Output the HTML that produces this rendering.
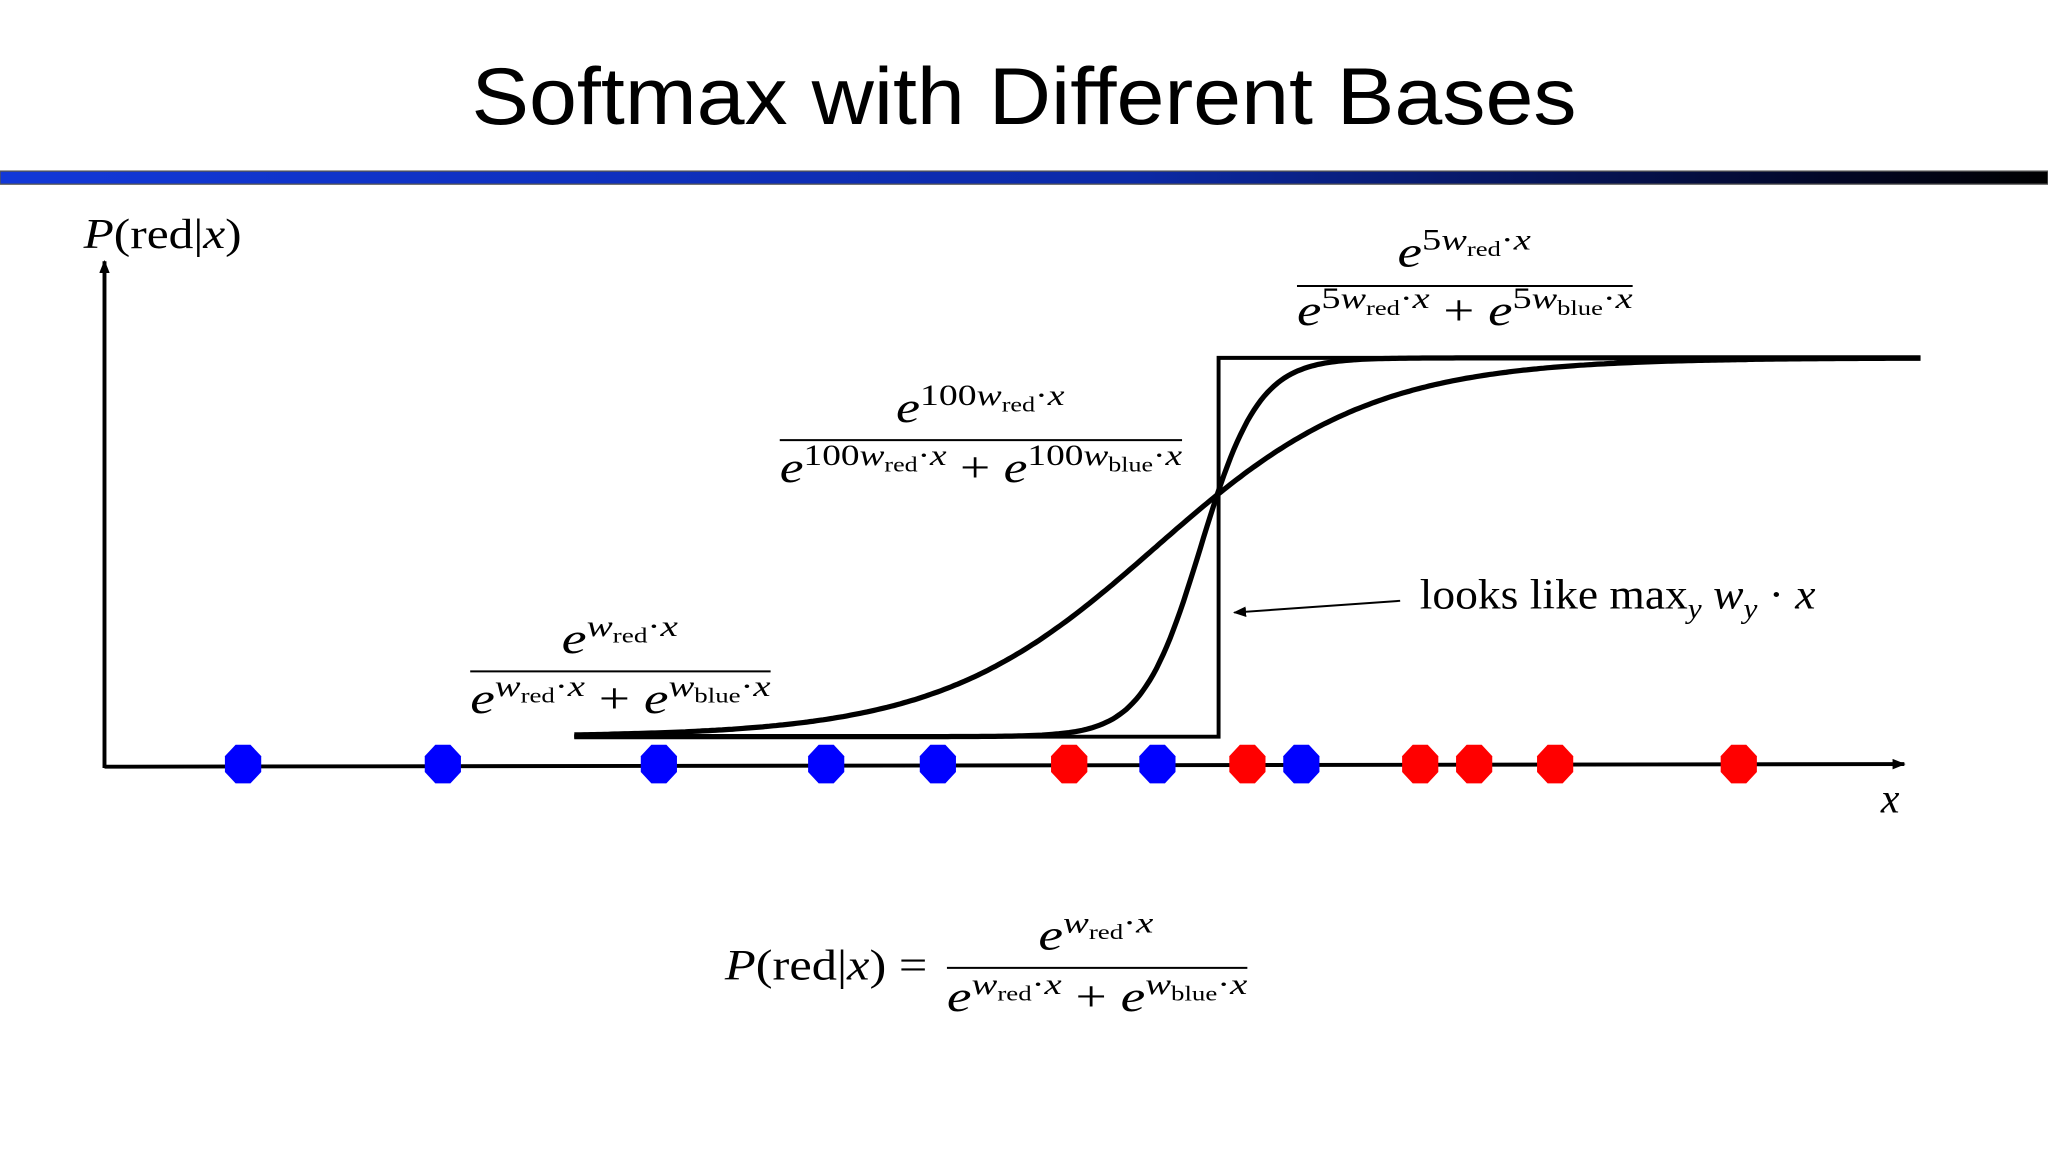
<!DOCTYPE html>
<html><head><meta charset="utf-8"><style>
html,body{margin:0;padding:0;background:#fff;}
svg{display:block;}
.m{font-family:"Liberation Serif",serif;font-style:italic;}
.r{font-family:"Liberation Serif",serif;font-style:normal;}
</style></head><body>
<svg id="chart" width="2048" height="1152" viewBox="0 0 1568 882" xmlns="http://www.w3.org/2000/svg">
<defs>
<linearGradient id="bar" x1="0" x2="1" y1="0" y2="0">
<stop offset="0" stop-color="#1238d8"/><stop offset="0.55" stop-color="#0c2aa8"/><stop offset="0.9" stop-color="#020624"/><stop offset="1" stop-color="#000"/>
</linearGradient>
<marker id="ah" markerWidth="10" markerHeight="8" refX="9" refY="4" orient="auto" markerUnits="userSpaceOnUse"><path d="M0,0 L10,4 L0,8 z" fill="#000"/></marker>
</defs>
<text x="784" y="95" text-anchor="middle" font-family="Liberation Sans, sans-serif" font-size="62" textLength="846" lengthAdjust="spacingAndGlyphs">Softmax with Different Bases</text>
<rect x="0" y="131" width="1568" height="10" fill="url(#bar)" stroke="#555" stroke-width="1"/>

<g id="axes">
<line x1="80" y1="588" x2="80" y2="200" stroke="#000" stroke-width="3" marker-end="url(#ah)"/>
<line x1="80" y1="587" x2="1458" y2="585" stroke="#000" stroke-width="3" marker-end="url(#ah)"/>
</g>
<text x="64" y="190" font-size="32" class="r" textLength="121" lengthAdjust="spacingAndGlyphs"><tspan class="m">P</tspan>(red|<tspan class="m">x</tspan>)</text>
<text x="1440" y="622" font-size="32" class="m">x</text>

<g id="curves"></g>
<g id="points"></g>

<g>
<text x="1070" y="204" font-size="33" class="m" textLength="102" lengthAdjust="spacingAndGlyphs">e<tspan font-size="23" dy="-13" class="r">5</tspan><tspan font-size="23">w</tspan><tspan font-size="16" dy="5" class="r">red</tspan><tspan font-size="23" dy="-5" class="r">·</tspan><tspan font-size="23">x</tspan></text>
<line x1="993" y1="219" x2="1250" y2="219" stroke="#000" stroke-width="1.5"/>
<text x="993" y="249" font-size="33" class="m" textLength="257" lengthAdjust="spacingAndGlyphs">e<tspan font-size="23" dy="-13" class="r">5</tspan><tspan font-size="23">w</tspan><tspan font-size="16" dy="5" class="r">red</tspan><tspan font-size="23" dy="-5" class="r">·</tspan><tspan font-size="23">x</tspan><tspan dy="13" class="r"> + </tspan>e<tspan font-size="23" dy="-13" class="r">5</tspan><tspan font-size="23">w</tspan><tspan font-size="16" dy="5" class="r">blue</tspan><tspan font-size="23" dy="-5" class="r">·</tspan><tspan font-size="23">x</tspan></text>
</g>
<g>
<text x="686" y="323" font-size="33" class="m" textLength="129" lengthAdjust="spacingAndGlyphs">e<tspan font-size="23" dy="-13" class="r">100</tspan><tspan font-size="23">w</tspan><tspan font-size="16" dy="5" class="r">red</tspan><tspan font-size="23" dy="-5" class="r">·</tspan><tspan font-size="23">x</tspan></text>
<line x1="597" y1="337" x2="905" y2="337" stroke="#000" stroke-width="1.5"/>
<text x="597" y="369" font-size="33" class="m" textLength="308" lengthAdjust="spacingAndGlyphs">e<tspan font-size="23" dy="-13" class="r">100</tspan><tspan font-size="23">w</tspan><tspan font-size="16" dy="5" class="r">red</tspan><tspan font-size="23" dy="-5" class="r">·</tspan><tspan font-size="23">x</tspan><tspan dy="13" class="r"> + </tspan>e<tspan font-size="23" dy="-13" class="r">100</tspan><tspan font-size="23">w</tspan><tspan font-size="16" dy="5" class="r">blue</tspan><tspan font-size="23" dy="-5" class="r">·</tspan><tspan font-size="23">x</tspan></text>
</g>
<g>
<text x="430" y="500" font-size="33" class="m" textLength="89" lengthAdjust="spacingAndGlyphs">e<tspan font-size="23" dy="-13">w</tspan><tspan font-size="16" dy="5" class="r">red</tspan><tspan font-size="23" dy="-5" class="r">·</tspan><tspan font-size="23">x</tspan></text>
<line x1="360" y1="514" x2="590" y2="514" stroke="#000" stroke-width="1.5"/>
<text x="360" y="546" font-size="33" class="m" textLength="230" lengthAdjust="spacingAndGlyphs">e<tspan font-size="23" dy="-13">w</tspan><tspan font-size="16" dy="5" class="r">red</tspan><tspan font-size="23" dy="-5" class="r">·</tspan><tspan font-size="23">x</tspan><tspan dy="13" class="r"> + </tspan>e<tspan font-size="23" dy="-13">w</tspan><tspan font-size="16" dy="5" class="r">blue</tspan><tspan font-size="23" dy="-5" class="r">·</tspan><tspan font-size="23">x</tspan></text>
</g>
<g>
<line x1="1072" y1="460" x2="945" y2="469" stroke="#000" stroke-width="1.5" marker-end="url(#ah)"/>
<text x="1087" y="466" font-size="32" class="r" textLength="303" lengthAdjust="spacingAndGlyphs">looks like max<tspan font-size="22" dy="7" class="m">y</tspan><tspan dy="-7" class="m"> w</tspan><tspan font-size="22" dy="7" class="m">y</tspan><tspan dy="-7"> · </tspan><tspan class="m">x</tspan></text>
</g>
<g>
<text x="555" y="750" font-size="33" class="r" textLength="155" lengthAdjust="spacingAndGlyphs"><tspan class="m">P</tspan>(red|<tspan class="m">x</tspan>) =</text>
<text x="795" y="727" font-size="33" class="m" textLength="88" lengthAdjust="spacingAndGlyphs">e<tspan font-size="23" dy="-13">w</tspan><tspan font-size="16" dy="5" class="r">red</tspan><tspan font-size="23" dy="-5" class="r">·</tspan><tspan font-size="23">x</tspan></text>
<line x1="725" y1="741" x2="955" y2="741" stroke="#000" stroke-width="1.5"/>
<text x="725" y="774" font-size="33" class="m" textLength="230" lengthAdjust="spacingAndGlyphs">e<tspan font-size="23" dy="-13">w</tspan><tspan font-size="16" dy="5" class="r">red</tspan><tspan font-size="23" dy="-5" class="r">·</tspan><tspan font-size="23">x</tspan><tspan dy="13" class="r"> + </tspan>e<tspan font-size="23" dy="-13">w</tspan><tspan font-size="16" dy="5" class="r">blue</tspan><tspan font-size="23" dy="-5" class="r">·</tspan><tspan font-size="23">x</tspan></text>
</g>
</svg>
<script>
// data (x in data units 0..100 along the axis)
const blueX = [7.7, 18.8, 30.8, 40.1, 46.3, 58.5, 66.5];
const redX = [53.6, 63.5, 73.1, 76.1, 80.6, 90.8];
const curveSlopes = [0.166, 0.618, 100];   // sharpness per data unit
const curveCenters = [58.4, 60.9, 61.9];
const curveWidths = [4, 4, 3];
const curveStart = 26.1, curveEnd = 100.9;

const NS = 'http://www.w3.org/2000/svg';
const sx = v => 80 + v * 13.78;
const sy = p => 564 - p * 290;

const cg = document.getElementById('curves');
curveSlopes.forEach((s, i) => {
  const c = curveCenters[i];
  let d = '';
  if (s >= 50) {
    d = 'M' + sx(curveStart) + ',' + sy(0) + ' L' + sx(c) + ',' + sy(0) + ' L' + sx(c) + ',' + sy(1) + ' L' + sx(curveEnd) + ',' + sy(1);
  } else {
    for (let k = 0; k <= 400; k++) {
      const v = curveStart + (curveEnd - curveStart) * k / 400;
      const p = 1 / (1 + Math.exp(-s * (v - c)));
      d += (k ? 'L' : 'M') + sx(v).toFixed(1) + ',' + sy(p).toFixed(1);
    }
  }
  const path = document.createElementNS(NS, 'path');
  path.setAttribute('d', d);
  path.setAttribute('fill', 'none');
  path.setAttribute('stroke', '#000');
  path.setAttribute('stroke-width', curveWidths[i]);
  
  
  cg.appendChild(path);
});

const pg = document.getElementById('points');
function octagon(cx, cy, color, name) {
  const rx = 15, ry = 16, pts = [];
  for (let k = 0; k < 8; k++) {
    const a = Math.PI / 8 + k * Math.PI / 4;
    pts.push((cx + rx * Math.cos(a)).toFixed(1) + ',' + (cy + ry * Math.sin(a)).toFixed(1));
  }
  const p = document.createElementNS(NS, 'polygon');
  p.setAttribute('points', pts.join(' '));
  p.setAttribute('fill', color);
  
  
  pg.appendChild(p);
}
blueX.forEach(v => octagon(sx(v), 585, '#0000ff', 'blue-point'));
redX.forEach(v => octagon(sx(v), 585, '#ff0000', 'red-point'));
</script>
</body></html>
